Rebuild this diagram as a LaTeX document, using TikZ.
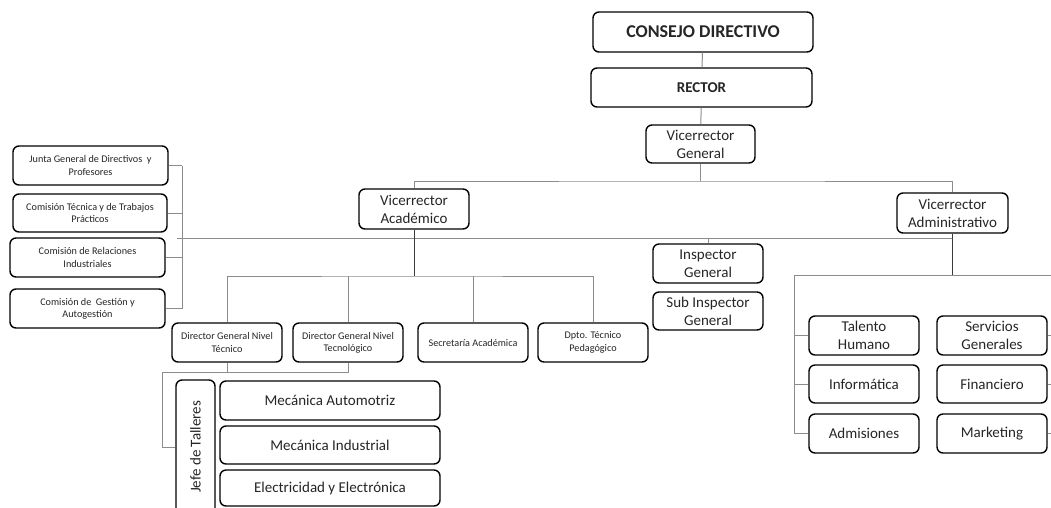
\documentclass[tikz,border=0pt]{standalone}
\usepackage{fontspec}
\setmainfont{Carlito}
\usetikzlibrary{calc}

\definecolor{ink}{HTML}{262626}
\definecolor{wire}{HTML}{8C8C8C}
\definecolor{darkwire}{HTML}{3A3A3A}

\tikzset{
  orgbox/.style={draw=black, line width=1.4pt, rounded corners=6pt, fill=white,
    align=center, inner sep=1pt, text=ink},
  bigtxt/.style={font=\fontsize{15}{18}\selectfont},
  smalltxt/.style={font=\fontsize{10.2}{12.3}\selectfont},
  wiring/.style={draw=wire, line width=1pt},
  trunk/.style={draw=darkwire, line width=1pt},
}

\begin{document}
\begin{tikzpicture}[x=1pt, y=-1pt]
\useasboundingbox (0,0) rectangle (1051,507);
\fill[white] (0,0) rectangle (1051,507);
\clip (0,0) rectangle (1051,507);

% top of the hierarchy
\node[orgbox, minimum width=220pt, minimum height=40pt,
  font=\fontsize{18}{20}\selectfont\bfseries] (consejo) at (703,32) {CONSEJO DIRECTIVO};
\node[orgbox, minimum width=221pt, minimum height=39pt,
  font=\fontsize{15}{18}\selectfont\bfseries] (rector) at (701.5,87.5) {RECTOR};
\node[orgbox, bigtxt, minimum width=109pt, minimum height=38pt] (vg) at (700.5,144) {Vicerrector\\General};

% vice-rectors
\node[orgbox, bigtxt, minimum width=110pt, minimum height=40pt] (va) at (414,209) {Vicerrector\\Académico};
\node[orgbox, bigtxt, minimum width=111pt, minimum height=40pt] (vad) at (952.5,213) {Vicerrector\\Administrativo};

% inspection
\node[orgbox, bigtxt, minimum width=110pt, minimum height=39pt] (insp) at (708,263.5) {Inspector\\General};
\node[orgbox, bigtxt, minimum width=110pt, minimum height=38pt] (subinsp) at (708,311) {Sub Inspector\\General};

% advisory bodies
\node[orgbox, smalltxt, minimum width=155pt, minimum height=39pt] (junta) at (90.5,165.5) {Junta General de Directivos~ y\\Profesores};
\node[orgbox, smalltxt, minimum width=154pt, minimum height=38pt] (comtec) at (90,213) {Comisión Técnica y de Trabajos\\Prácticos};
\node[orgbox, smalltxt, minimum width=155pt, minimum height=39pt] (comrel) at (87.5,257.5) {Comisión de Relaciones\\Industriales};
\node[orgbox, smalltxt, minimum width=155pt, minimum height=39pt] (comges) at (87.5,308.5) {Comisión de~ Gestión y\\Autogestión};

% academic units
\node[orgbox, smalltxt, minimum width=110pt, minimum height=39pt] (dirtec) at (227,342.5) {Director General Nivel\\Técnico};
\node[orgbox, smalltxt, minimum width=110pt, minimum height=39pt] (dirtecno) at (348,342.5) {Director General Nivel\\Tecnológico};
\node[orgbox, smalltxt, minimum width=110pt, minimum height=39pt] (secac) at (473,342.5) {Secretaría Académica};
\node[orgbox, smalltxt, minimum width=110pt, minimum height=39pt] (dpto) at (593,342.5) {Dpto. Técnico\\Pedagógico};

% workshops
\node[orgbox, minimum width=39pt, minimum height=134pt] (jefe) at (195.5,447) {};
\node[rotate=90, text=ink, font=\fontsize{15}{18}\selectfont] (jefetxt) at (jefe.center) {Jefe de Talleres};
\node[orgbox, bigtxt, minimum width=220pt, minimum height=39pt] (mecauto) at (330,400.5) {Mecánica Automotriz};
\node[orgbox, bigtxt, minimum width=220pt, minimum height=38pt] (mecind) at (330,445) {Mecánica Industrial};
\node[orgbox, bigtxt, minimum width=220pt, minimum height=36pt] (elec) at (330,488) {Electricidad y Electrónica};

% administrative units
\node[orgbox, bigtxt, minimum width=110pt, minimum height=39pt] (talento) at (864,335.5) {Talento\\Humano};
\node[orgbox, bigtxt, minimum width=110pt, minimum height=38pt] (informatica) at (864,384) {Informática};
\node[orgbox, bigtxt, minimum width=110pt, minimum height=39pt] (admisiones) at (864,433.5) {Admisiones};
\node[orgbox, bigtxt, minimum width=110pt, minimum height=39pt] (servicios) at (992,335.5) {Servicios\\Generales};
\node[orgbox, bigtxt, minimum width=110pt, minimum height=38pt] (financiero) at (992,384) {Financiero};
\node[orgbox, bigtxt, minimum width=110pt, minimum height=39pt] (marketing) at (992,433.5) {Marketing};

% bus points
\coordinate (topbus) at (700.5,181);
\coordinate (staffbus) at (177,238.5);
\coordinate (lspine) at (182,0);
\coordinate (acbus) at (414,276);
\coordinate (tb) at (162,372);
\coordinate (adbus) at (952.5,275);
\coordinate (adspine) at (794,275);
\coordinate (adright) at (1051,275);

% chain of command
\draw[wiring] (consejo) -- (rector);
\draw[wiring] (rector) -- (vg);
\draw[wiring] (vg.south) -- (topbus);
\draw[wiring] (va.north) |- (topbus) -| (vad.north);

% staff line to the advisory bodies and inspection
\draw[wiring] (staffbus) -- (staffbus -| vad.south);
\draw[wiring] (insp.north) -- (insp.north |- staffbus);
\draw[wiring] (junta.east -| lspine) -- (comges.east -| lspine);
\foreach \n in {junta,comtec,comrel,comges}
  \draw[wiring] (\n.east) -- (\n.east -| lspine);

% academic branch
\draw[trunk] (va.south) -- (acbus);
\draw[wiring] (dirtec.north) |- (acbus) -| (dpto.north);
\draw[wiring] (dirtecno.north) -- (dirtecno.north |- acbus);
\draw[wiring] (secac.north) -- (secac.north |- acbus);
\draw[wiring] (dirtec.south) -- (dirtec.south |- tb);
\draw[wiring] (dirtecno.south) -- (dirtecno.south |- tb) -- (tb) |- (jefe.west);

% administrative branch
\draw[trunk] (vad.south) -- (adbus);
\draw[wiring] (adspine) -- (adright);
\draw[wiring] (adspine) |- (admisiones.west);
\draw[wiring] (talento.west) -- (talento.west -| adspine);
\draw[wiring] (informatica.west) -- (informatica.west -| adspine);
\foreach \n in {servicios,financiero,marketing}
  \draw[wiring] (\n.east) -- (\n.east -| adright);
\end{tikzpicture}
\end{document}
